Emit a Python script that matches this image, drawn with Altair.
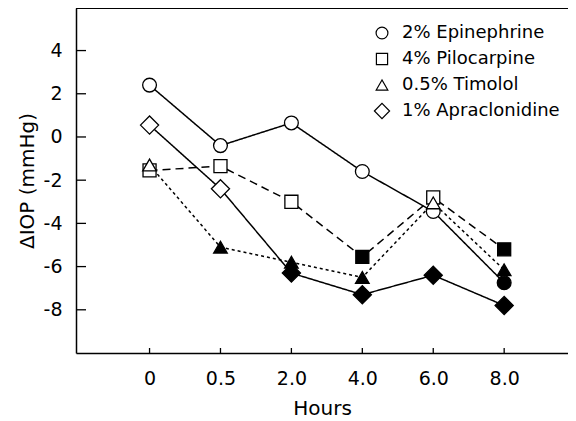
import altair as alt
import pandas as pd

hours = ["0", "0.5", "2.0", "4.0", "6.0", "8.0"]
series = ["2% Epinephrine", "4% Pilocarpine", "0.5% Timolol", "1% Apraclonidine"]
epinephrine = [2.4, -0.4, 0.65, -1.6, -3.45, -6.75]
pilocarpine = [-1.55, -1.35, -3.0, -5.55, -2.8, -5.2]
timolol = [-1.3, -5.1, -5.8, -6.5, -3.05, -6.15]
apraclonidine = [0.55, -2.4, -6.3, -7.3, -6.4, -7.8]
# filled marker = significant change
epi_filled = [False, False, False, False, False, True]
pilo_filled = [False, False, False, True, False, True]
timo_filled = [False, True, True, True, False, True]
apra_filled = [False, False, True, True, True, True]
y_ticks = [-8, -6, -4, -2, 0, 2, 4]
shapes = ["circle", "square", "triangle-up", "diamond"]
marker_sizes = [190, 170, 185, 330]
legend_sizes = [140, 125, 135, 230]

rows = []
for name, vals, fl, sz in zip(series,
                              [epinephrine, pilocarpine, timolol, apraclonidine],
                              [epi_filled, pilo_filled, timo_filled, apra_filled],
                              marker_sizes):
    for i, (v, f) in enumerate(zip(vals, fl)):
        rows.append({"series": name, "line": name, "idx": i, "hour": hours[i],
                     "value": v, "filled": f, "msize": sz})
df = pd.DataFrame(rows)

W, H = 492, 345
FONT = "DejaVu Sans"
xscale = alt.Scale(domain=[-1.037, 5.90], nice=False, zero=False)
yscale = alt.Scale(domain=[-10.0, 5.97], nice=False, zero=False)
shape_scale = alt.Scale(domain=series, range=shapes)

x_expr = ""
for i, h in enumerate(hours):
    x_expr += "datum.value == %d ? '%s' : " % (i, h)
x_expr += "''"

x_axis = alt.Axis(values=list(range(len(hours))), labelExpr=x_expr,
                  title="Hours", ticks=False, grid=False, domain=True, domainColor="black",
                  domainWidth=1.5, labelFont=FONT, labelFontSize=19, labelColor="black",
                  labelPadding=16, labelBaseline="top", titleFont=FONT, titleFontSize=20,
                  titleFontWeight="normal", titleColor="black", titlePadding=10)
y_axis = alt.Axis(values=y_ticks,
                  labelExpr="datum.value < 0 ? '-' + (-datum.value) : '' + datum.value",
                  title="\u0394IOP (mmHg)", ticks=False, grid=False, domain=True,
                  domainColor="black", domainWidth=1.5, labelFont=FONT, labelFontSize=19,
                  labelColor="black", labelPadding=14, titleFont=FONT, titleFontSize=20,
                  titleFontWeight="normal", titleColor="black", titlePadding=6)

base = alt.Chart(df)

lines = base.mark_line(color="black", strokeWidth=1.5).encode(
    x=alt.X("idx:Q", scale=xscale, axis=x_axis),
    y=alt.Y("value:Q", scale=yscale, axis=y_axis),
    detail="line:N",
    strokeDash=alt.StrokeDash("line:N", scale=alt.Scale(domain=series,
                              range=[[1, 0], [8, 5], [3, 3], [1, 0]]), legend=None),
)

points = base.mark_point(filled=True, stroke="black", strokeWidth=1.3,
                         opacity=1).encode(
    x=alt.X("idx:Q", scale=xscale),
    y=alt.Y("value:Q", scale=yscale),
    shape=alt.Shape("series:N", scale=shape_scale, legend=None),
    size=alt.Size("msize:Q", scale=None),
    fill=alt.condition("datum.filled", alt.value("black"), alt.value("white")),
)

ytick_df = pd.DataFrame({"value": y_ticks})
yticks = alt.Chart(ytick_df).mark_rule(color="black", strokeWidth=1.3).encode(
    y=alt.Y("value:Q", scale=yscale),
    x=alt.value(0), x2=alt.value(10),
)
xtick_df = pd.DataFrame({"idx": list(range(len(hours)))})
xticks = alt.Chart(xtick_df).mark_rule(color="black", strokeWidth=1.3).encode(
    x=alt.X("idx:Q", scale=xscale),
    y=alt.value(H), y2=alt.value(H - 5),
)
top = alt.Chart(xtick_df).mark_rule(color="black", strokeWidth=1.5).encode(
    x=alt.value(0), x2=alt.value(W), y=alt.value(0),
)

# legend (drawn as marks, placed in the upper right of the plot area)
legend_df = pd.DataFrame({"series": series, "row": list(range(len(series))),
                          "lsize": legend_sizes})
leg_base = alt.Chart(legend_df).transform_calculate(py="25 + datum.row * 26")
leg_sym = leg_base.mark_point(filled=True, fill="white", stroke="black",
                              strokeWidth=1.2, opacity=1).encode(
    x=alt.value(306),
    y=alt.Y("py:Q", scale=None),
    shape=alt.Shape("series:N", scale=shape_scale, legend=None),
    size=alt.Size("lsize:Q", scale=None),
)
leg_txt = leg_base.mark_text(align="left", baseline="middle", font=FONT, fontSize=18,
                             color="black").encode(
    x=alt.value(326),
    y=alt.Y("py:Q", scale=None),
    text="series:N",
)

chart = alt.layer(lines, points, yticks, xticks, top, leg_sym, leg_txt).properties(
    width=W, height=H,
    autosize=alt.AutoSizeParams(type="none"),
    padding={"left": 68, "top": 0, "right": 0, "bottom": 68},
).configure_view(stroke=None)

chart.save("out.html", embed_options={"renderer": "svg", "actions": False})
